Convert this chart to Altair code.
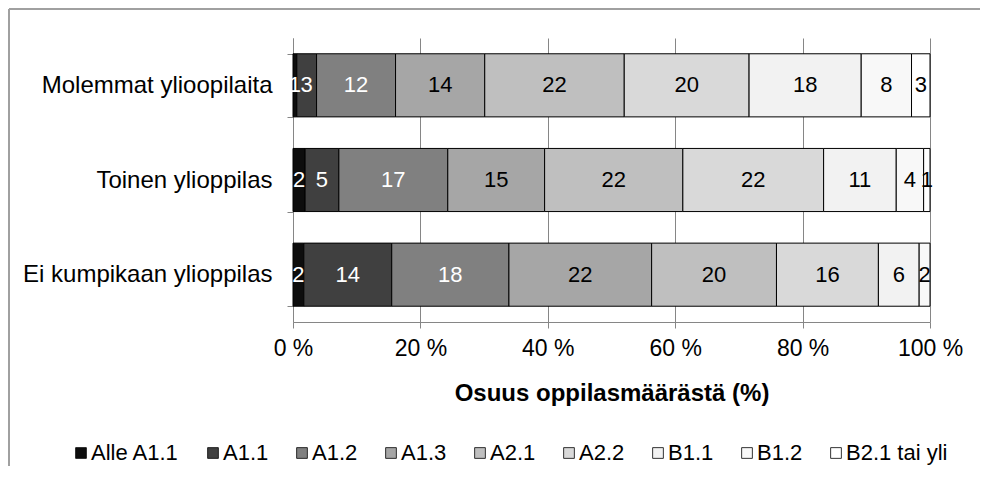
import altair as alt
import pandas as pd

groups = ["Molemmat ylioopilaita", "Toinen ylioppilas", "Ei kumpikaan ylioppilas"]
levels = ["Alle A1.1", "A1.1", "A1.2", "A1.3", "A2.1", "A2.2", "B1.1", "B1.2", "B2.1 tai yli"]
fill_colors = ["#0d0d0d", "#404040", "#808080", "#a6a6a6", "#bfbfbf", "#d9d9d9", "#f2f2f2", "#f8f8f8", "#ffffff"]
text_colors = ["#ffffff", "#ffffff", "#ffffff", "#000000", "#000000", "#000000", "#000000", "#000000", "#000000"]

molemmat = [0.6, 3.1, 12.4, 14.0, 21.9, 19.6, 17.6, 7.9, 2.9]
toinen = [1.9, 5.3, 17.1, 15.2, 21.7, 22.1, 11.4, 4.3, 1.0]
ei_kumpikaan = [1.7, 13.8, 18.4, 22.4, 19.6, 16.0, 6.4, 1.7, 0.0]

x_ticks = [0, 20, 40, 60, 80, 100]

rows = []
for g, vals in zip(groups, [molemmat, toinen, ei_kumpikaan]):
    for i, (lvl, v) in enumerate(zip(levels, vals)):
        rows.append({"group": g, "level": lvl, "idx": i, "value": v, "tc": text_colors[i]})
df = pd.DataFrame(rows)
df = df[df["value"] > 0]

FONT = "Liberation Sans"
GRAY = "#868686"
XTITLE = "Osuus oppilasmäärästä (%)"

y_enc = alt.Y(
    "group:N",
    sort=groups,
    scale=alt.Scale(paddingInner=1 / 3, paddingOuter=1 / 6),
    axis=alt.Axis(
        title=None,
        tickBand="extent",
        tickSize=6,
        tickColor=GRAY,
        domainColor=GRAY,
        labelFontSize=24,
        labelPadding=15,
        labelLimit=500,
        labelColor="#000000",
        grid=False,
    ),
)

x_scale = alt.Scale(domain=[0, 100], nice=False)
x_axis = alt.Axis(
    values=x_ticks,
    labelExpr="datum.value + ' %'",
    labelFontSize=23,
    labelColor="#000000",
    labelPadding=9,
    labelFlush=False,
    tickSize=6,
    tickColor=GRAY,
    domainColor=GRAY,
    grid=True,
    gridColor=GRAY,
    titleFontSize=24,
    titleFontWeight="bold",
    titleColor="#000000",
    titlePadding=21,
)

base = alt.Chart(df)

bars = base.mark_bar(stroke="#000000", strokeWidth=1).encode(
    x=alt.X("value:Q", stack="zero", scale=x_scale, axis=x_axis, title=XTITLE),
    y=y_enc,
    color=alt.Color(
        "level:N",
        sort=levels,
        scale=alt.Scale(domain=levels, range=fill_colors),
        legend=alt.Legend(
            title=None,
            orient="none",
            legendX=-223,
            legendY=404,
            direction="horizontal",
            columns=9,
            symbolType="square",
            symbolSize=115,
            symbolStrokeColor="#000000",
            symbolStrokeWidth=0.8,
            labelFontSize=22,
            labelColor="#000000",
            labelOffset=alt.ExprRef(expr="-1"),
            columnPadding=22,
        ),
    ),
    order=alt.Order("idx:Q"),
)

labels = (
    base.transform_stack(
        stack="value",
        groupby=["group"],
        sort=[alt.SortField("idx", order="ascending")],
        as_=["x0", "x1"],
    )
    .transform_calculate(mid="(datum.x0 + datum.x1) / 2")
    .mark_text(fontSize=22, font=FONT, align="center", baseline="middle")
    .encode(
        x=alt.X("mid:Q", scale=x_scale, title=XTITLE),
        y=alt.Y("group:N", sort=groups),
        text=alt.Text("value:Q", format=".0f"),
        color=alt.Color("tc:N", scale=None),
    )
)

frame_df = pd.DataFrame({"f": [0]})
frame_left = alt.Chart(frame_df).mark_rule(color="#a0a0a0", strokeWidth=2).encode(
    x=alt.value(-284),
    y=alt.value(-29),
    y2=alt.value(700),
)
frame_top = alt.Chart(frame_df).mark_rule(color="#a0a0a0", strokeWidth=2).encode(
    x=alt.value(-284),
    x2=alt.value(900),
    y=alt.value(-29),
)

chart = (
    alt.layer(frame_left, frame_top, bars, labels)
    .resolve_scale(color="independent")
    .properties(
        width=637,
        height=284,
        autosize=alt.AutoSizeParams(type="none"),
        padding={"left": 285, "top": 30, "right": 50, "bottom": 144},
    )
    .configure(font=FONT)
    .configure_view(stroke=None)
)

chart.save("out.html", embed_options={"renderer": "svg", "actions": False})
